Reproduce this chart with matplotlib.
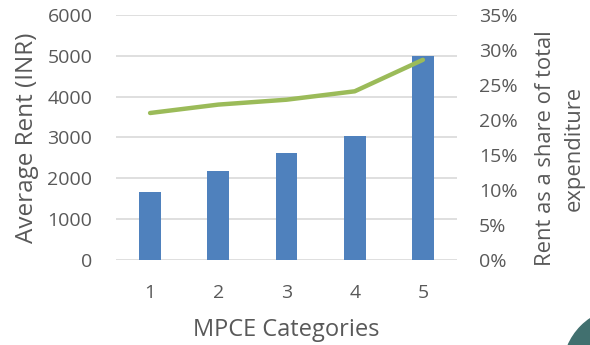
import matplotlib

matplotlib.use("Agg")
import matplotlib.pyplot as plt
from matplotlib.patches import Circle
from matplotlib.ticker import FuncFormatter

categories = ["1", "2", "3", "4", "5"]
avg_rent = [1670, 2170, 2620, 3040, 5000]
rent_share = [21.0, 22.2, 22.9, 24.1, 28.6]

plt.rcParams["font.family"] = ["Open Sans", "DejaVu Sans"]
grey = "#595959"

fig = plt.figure(figsize=(5.9, 3.45), dpi=100)
ax = fig.add_axes([0.1966, 0.2464, 0.578, 0.7101])
ax2 = ax.twinx()

x = range(len(categories))
ax.bar(x, avg_rent, width=0.32, color="#4f81bd", zorder=2)
ax2.plot(x, rent_share, color="#9bbb59", linewidth=3.2, solid_capstyle="round", zorder=3)

ax.set_xlim(-0.5, 4.5)
ax.set_ylim(0, 6000)
ax.set_yticks(range(0, 6001, 1000))
ax.set_xticks(list(x))
ax.set_xticklabels(categories)
ax2.set_ylim(0, 35)
ax2.set_yticks(range(0, 36, 5))
ax2.yaxis.set_major_formatter(FuncFormatter(lambda v, _: f"{v:.0f}%"))

ax.grid(axis="y", color="#d9d9d9", linewidth=1.2, zorder=0)
ax.set_axisbelow(True)
ax.set_zorder(1)
ax.patch.set_visible(False)
ax2.set_zorder(2)

for a in (ax, ax2):
    for s in a.spines.values():
        s.set_visible(False)
    a.tick_params(length=0, labelsize=14, labelcolor=grey)
ax.tick_params(axis="y", pad=17)
ax.tick_params(axis="x", pad=17)
ax2.tick_params(axis="y", pad=16)

ax.set_xlabel("MPCE Categories", fontsize=17, color=grey, labelpad=12)
ax.set_ylabel("Average Rent (INR)", fontsize=17.5, color=grey, labelpad=6)
ax2.set_ylabel("Rent as a share of total\nexpenditure", fontsize=15.8, color=grey,
               linespacing=1.5)
ax2.yaxis.set_label_coords(1.228, 0.455)

# decorative page element cut off in the corner
fig.patches.append(Circle((6.25, -0.25), 0.62, transform=fig.dpi_scale_trans,
                          color="#41706f", zorder=0))

fig.savefig("out.png", dpi=100)
plt.close(fig)
